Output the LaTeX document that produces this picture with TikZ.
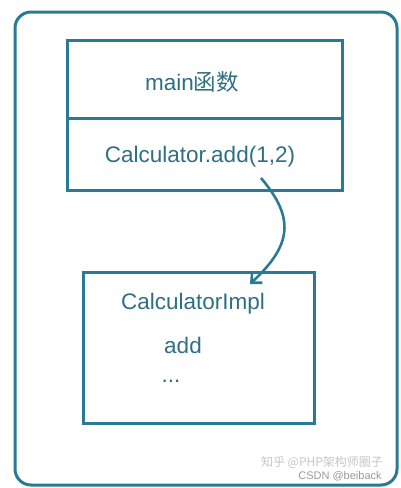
\documentclass[tikz,border=0pt]{standalone}
\usepackage{fontspec}
\setmainfont{Liberation Sans}
\newfontfamily\cjk{Noto Sans CJK SC}
\usetikzlibrary{arrows.meta,positioning}
\definecolor{teal1}{HTML}{2B7A93}
\definecolor{teal2}{HTML}{2F6F82}

\begin{document}
\begin{tikzpicture}
			[x=1pt,y=-1pt,font=\fontsize{22.5}{26}\selectfont,
			box/.style={shape=rectangle,draw=teal1,line width=3pt,inner sep=0pt,outer sep=0pt},
			txt/.style={text=teal2,inner sep=0pt},
			arc/.style={-{Straight Barb[length=8pt,width=15pt]},draw=teal1,line width=2.6pt}]
			\useasboundingbox (0,0) rectangle (401,488);
			\draw [teal1,line width=3pt,rounded corners=16pt] (15,12) rectangle (397,485);
			
			\node (1) [box,minimum width=275pt,minimum height=78pt] at (204.5,79) {};
			\node (2) [box,minimum width=275pt,minimum height=72pt,below=0pt of 1] {};
			\node (3) [box,minimum width=231pt,minimum height=151pt] at (198.5,347.5) {};
			
			\node [txt] at (192,82) {main{\cjk 函数}};
			\node [txt] at (200,157) {Calculator.add(1,2)};
			\node [txt] at (193,304) {CalculatorImpl};
			\node [txt] at (183,345) {add};
			\node [txt] at (171,381) {...};
			
			\node [text=gray!45,font=\cjk\fontsize{12}{14}\selectfont] at (322,462) {知乎 @PHP架构师圈子};
			\node [text=gray!80,font=\fontsize{11}{13}\selectfont] at (340,476) {CSDN @beiback};
			
			\coordinate (from) at (261,178);
			\coordinate (to) at (250,284);
			\draw [arc] (from) .. controls (295,218) and (292,245) .. (to);
			\end{tikzpicture}
\end{document}
